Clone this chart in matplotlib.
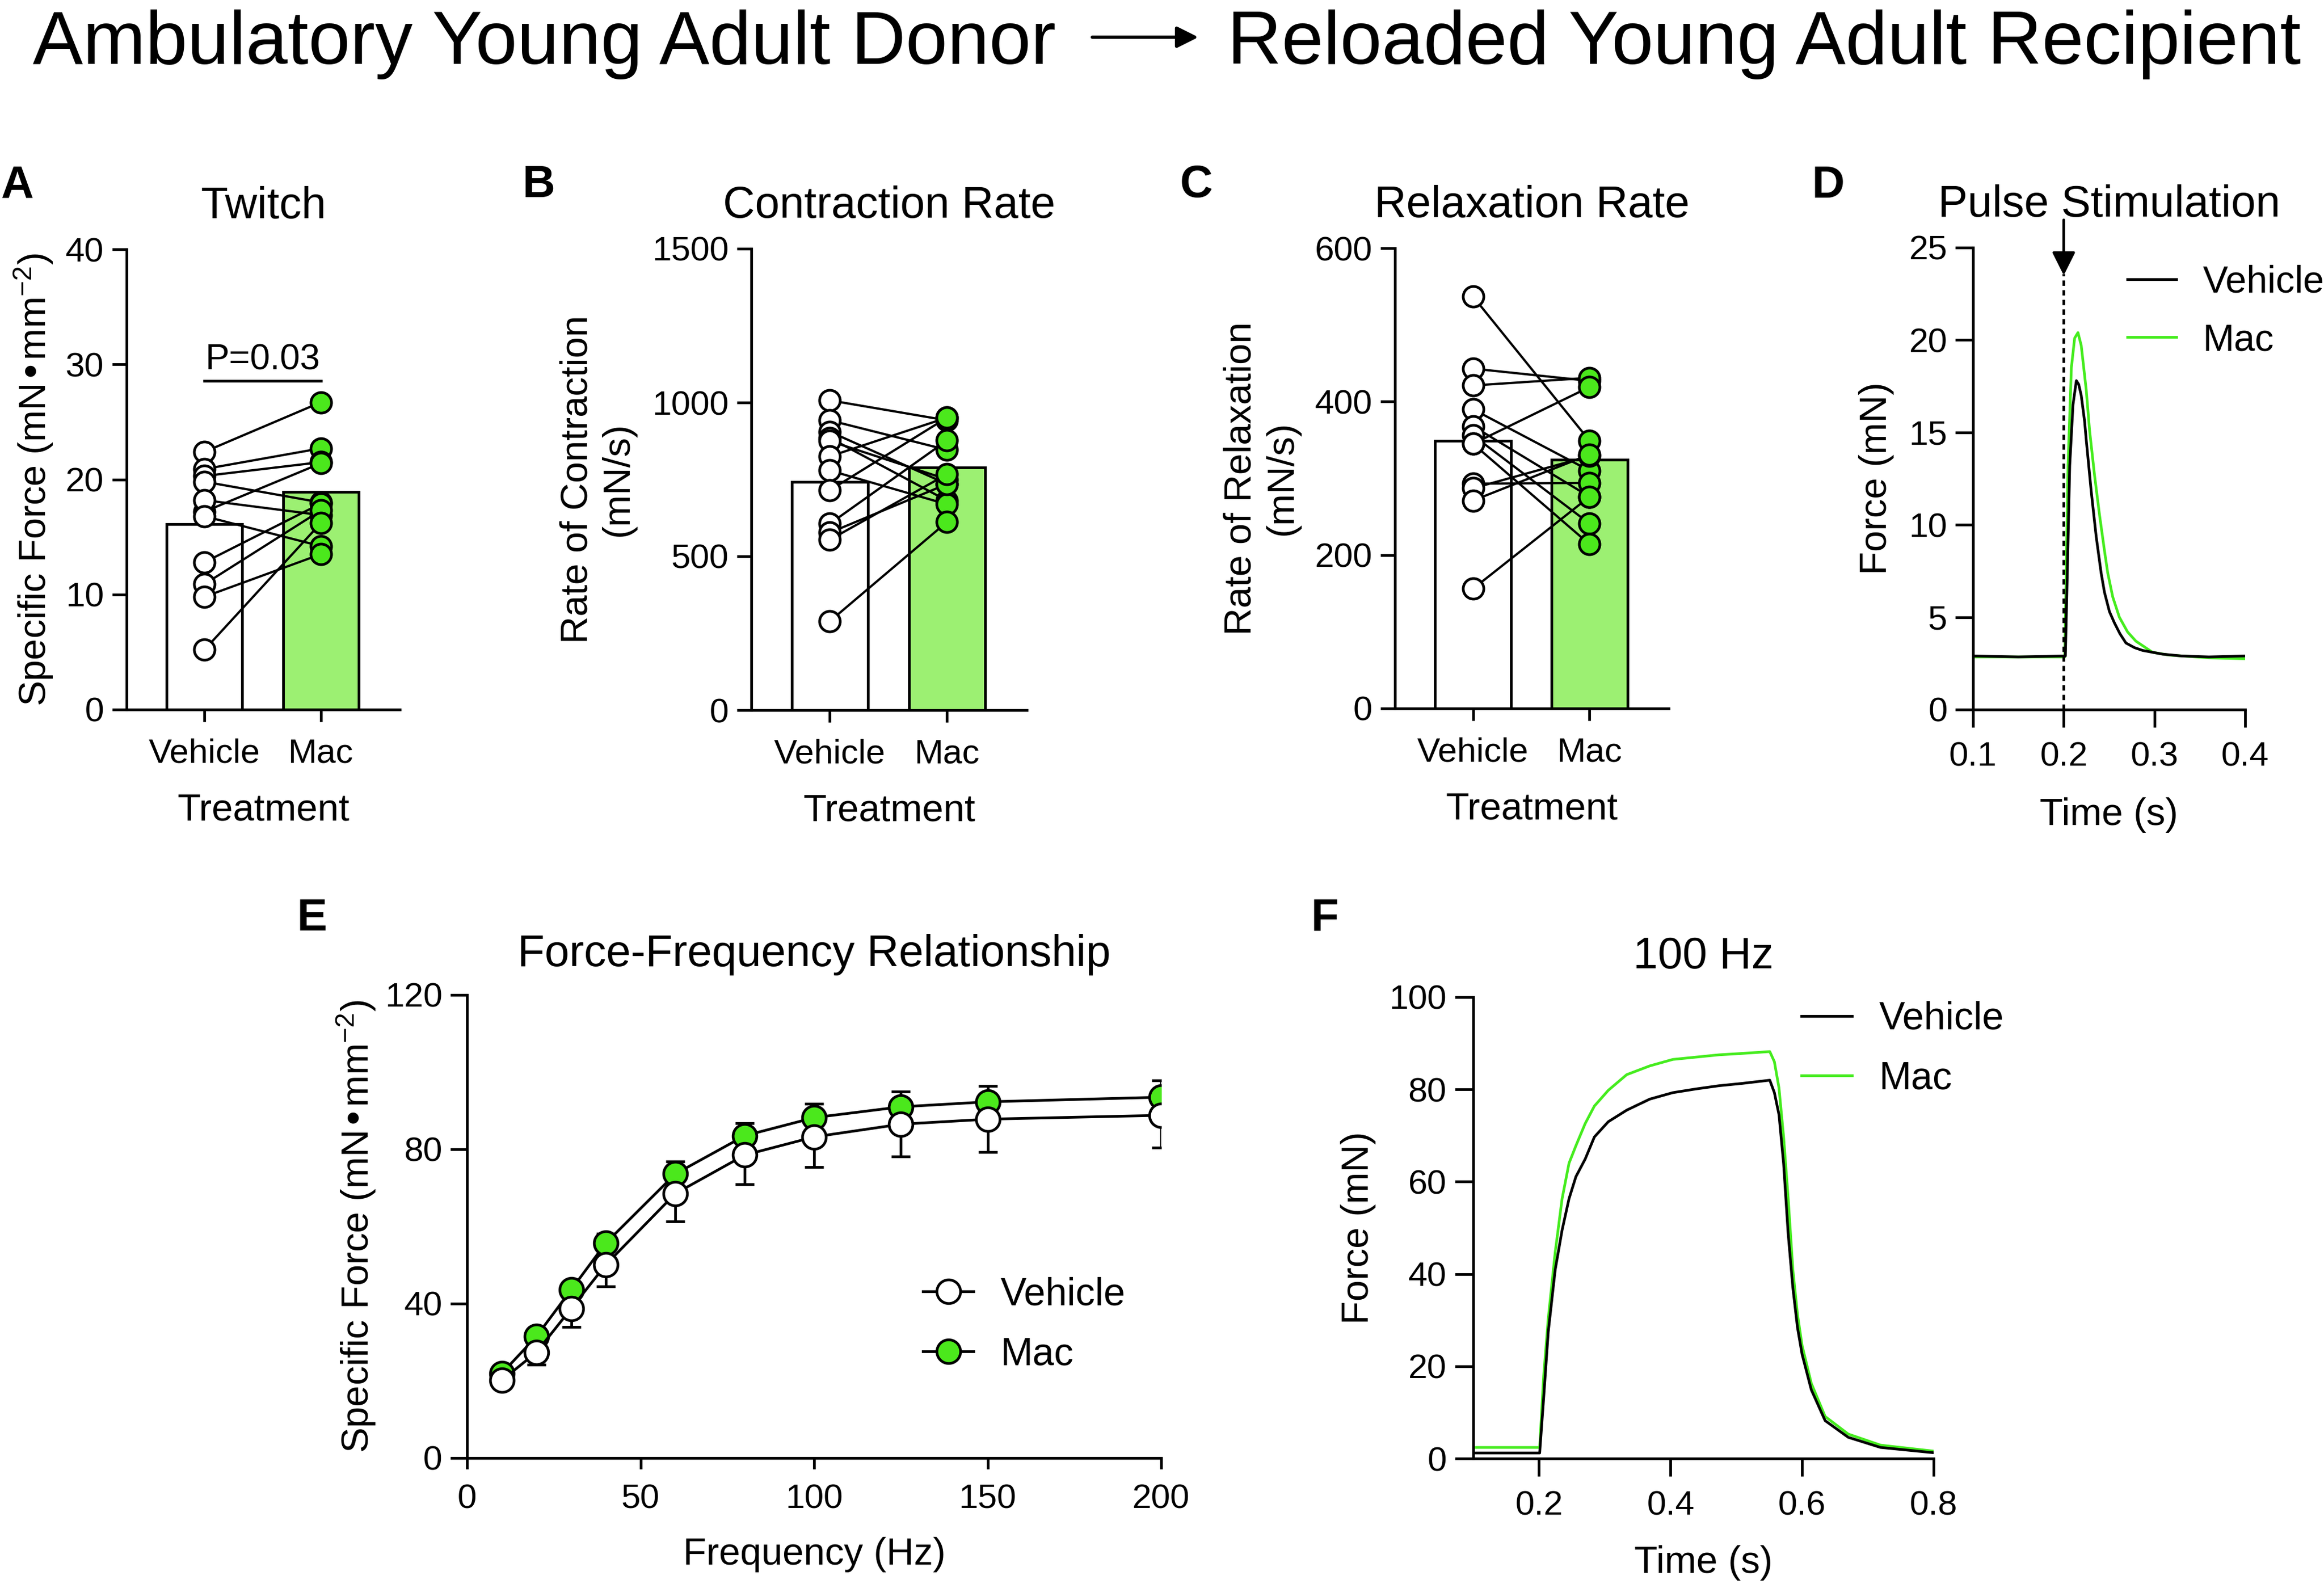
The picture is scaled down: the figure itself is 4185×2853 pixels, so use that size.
import matplotlib
matplotlib.use('Agg')
import matplotlib.pyplot as plt
from matplotlib.patches import FancyArrowPatch
import numpy as np

plt.rcParams['font.family'] = ['Liberation Sans', 'DejaVu Sans']
plt.rcParams['mathtext.default'] = 'regular'

# ---------------- data ----------------
treatments = ['Vehicle', 'Mac']

twitch_vehicle = [22.4, 20.9, 20.3, 19.8, 17.2, 18.2, 16.8, 12.8, 10.9, 9.8, 5.2]
twitch_mac = [26.7, 22.7, 21.5, 18.0, 21.4, 16.9, 14.2, 17.9, 17.3, 13.5, 16.2]
twitch_bars = [16.1, 18.9]

contr_vehicle = [1007, 942, 905, 885, 875, 825, 779, 715, 606, 577, 554, 289]
contr_mac = [942, 846, 735, 681, 750, 951, 669, 951, 877, 735, 767, 612]
contr_bars = [742, 788]

relax_vehicle = [537, 443, 421, 390, 368, 356, 345, 345, 293, 287, 271, 156]
relax_mac = [349, 427, 431, 310, 276, 241, 419, 214, 294, 329, 331, 276]
relax_bars = [349, 324]

stim_time = 0.2
pulse_t_vehicle = [0.100, 0.150, 0.2018, 0.2040, 0.2066, 0.2102, 0.2139, 0.2165, 0.2193, 0.2230,
                   0.2248, 0.2303, 0.2358, 0.2412, 0.2449, 0.2504, 0.2558, 0.2620, 0.2686, 0.2780,
                   0.2869, 0.3088, 0.3300, 0.3600, 0.4000]
pulse_f_vehicle = [2.9, 2.85, 2.9, 7.5, 13.2, 16.5, 17.8, 17.6, 17.0, 15.6,
                   14.6, 11.8, 9.35, 7.4, 6.35, 5.3, 4.7, 4.1, 3.6, 3.35,
                   3.2, 3.0, 2.9, 2.85, 2.9]
pulse_t_mac = [0.100, 0.150, 0.2011, 0.2047, 0.2084, 0.2120, 0.2157, 0.2193, 0.2248, 0.2285,
               0.2339, 0.2394, 0.2449, 0.2485, 0.2540, 0.2613, 0.2704, 0.2796, 0.2978, 0.3160,
               0.3600, 0.4000]
pulse_f_mac = [2.85, 2.85, 2.85, 13.2, 18.5, 20.1, 20.4, 19.7, 17.3, 15.1,
               12.7, 10.55, 8.6, 7.4, 6.1, 5.0, 4.2, 3.7, 3.1, 2.95,
               2.8, 2.75]

ffr_freq = [10, 20, 30, 40, 60, 80, 100, 125, 150, 200]
ffr_vehicle = [20.1, 27.4, 38.7, 50.1, 68.5, 78.5, 83.2, 86.5, 87.8, 88.8]
ffr_vehicle_sem = [1.0, 3.2, 4.7, 5.7, 7.2, 7.6, 7.8, 8.3, 8.5, 8.4]
ffr_mac = [21.9, 31.5, 43.6, 55.7, 73.6, 83.5, 88.2, 91.0, 92.3, 93.5]
ffr_mac_sem = [1.0, 1.5, 2.0, 2.5, 3.3, 3.2, 3.6, 3.9, 4.1, 4.4]

tet_t_vehicle = [0.100, 0.150, 0.2010, 0.2070, 0.2140, 0.2246, 0.2351, 0.2456, 0.2561, 0.2702,
                 0.2842, 0.3053, 0.3333, 0.3684, 0.4035, 0.4386, 0.4737, 0.5088, 0.5509, 0.5579,
                 0.5649, 0.5719, 0.5789, 0.5860, 0.5930, 0.6000, 0.6140, 0.6351, 0.6702, 0.7193,
                 0.8000]
tet_f_vehicle = [1.2, 1.2, 1.2, 13.0, 27.4, 40.9, 49.5, 56.3, 61.1, 64.9,
                 69.7, 73.0, 75.5, 77.9, 79.3, 80.1, 80.8, 81.3, 82.0, 79.3,
                 74.5, 63.9, 48.6, 37.0, 28.4, 22.6, 14.9, 8.2, 4.6, 2.4,
                 1.25]
tet_t_mac = [0.100, 0.150, 0.2010, 0.2070, 0.2140, 0.2246, 0.2351, 0.2456, 0.2561, 0.2702,
             0.2842, 0.3053, 0.3333, 0.3684, 0.4035, 0.4386, 0.4737, 0.5088, 0.5509, 0.5579,
             0.5649, 0.5719, 0.5789, 0.5860, 0.5930, 0.6000, 0.6140, 0.6351, 0.6702, 0.7193,
             0.8000]
tet_f_mac = [2.4, 2.4, 2.4, 17.8, 30.3, 44.7, 56.3, 64.0, 67.8, 72.6,
             76.4, 79.8, 83.2, 85.1, 86.5, 87.0, 87.5, 87.8, 88.2, 86.0,
             80.3, 69.7, 56.3, 40.9, 31.25, 24.5, 16.3, 9.1, 5.3, 2.9,
             1.6]

# ---------------- style ----------------
GREEN = '#4BE81C'
GREEN_LINE = '#45EC1E'
GREEN_FILL = '#9CF072'
LW = 1.3
TICK_FS = 16.8
LABEL_FS = 18.5
TITLE_FS = 21.5
LEG_FS = 18.8

W, H = 4185, 2853
DPI = 267
fig = plt.figure(figsize=(W / DPI, H / DPI), dpi=DPI)


def px_axes(l, t, r, b):
    return fig.add_axes([l / W, 1 - b / H, (r - l) / W, (b - t) / H])


def style(ax, xlen=7, ylen=7, xpad=8, ypad=4):
    for s in ['top', 'right']:
        ax.spines[s].set_visible(False)
    for s in ['left', 'bottom']:
        ax.spines[s].set_linewidth(LW)
    ax.tick_params(axis='both', width=LW, direction='out', labelsize=TICK_FS, colors='black')
    ax.tick_params(axis='x', length=xlen, pad=xpad)
    ax.tick_params(axis='y', length=ylen, pad=ypad)


axA = px_axes(228, 449, 720, 1278)
axB = px_axes(1353, 448, 1849, 1279)
axC = px_axes(2512, 447, 3005, 1276)
axD = px_axes(3553, 446, 4043, 1278)
axE = px_axes(841, 1792, 2091, 2626)
axF = px_axes(2653, 1796, 3482, 2627)


def bar_panel(ax, veh, mac, bars, top, step, ylabel, title, ylab_x):
    style(ax, xlen=6, ylen=7, xpad=8)
    ax.bar([0, 1], bars, width=0.65, color=['white', GREEN_FILL],
           edgecolor='black', linewidth=LW, zorder=1)
    for v, m in zip(veh, mac):
        ax.plot([0, 1], [v, m], color='black', lw=1.1, zorder=2)
    ax.plot(np.zeros(len(veh)), veh, 'o', mfc='white', mec='black', ms=10, mew=1.3, zorder=3)
    ax.plot(np.ones(len(mac)), mac, 'o', mfc=GREEN, mec='black', ms=10, mew=1.3, zorder=3)
    ax.set_xlim(-0.67, 1.68)
    ax.set_ylim(0, top)
    ax.set_yticks(np.arange(0, top + 1e-9, step))
    ax.set_xticks([0, 1])
    ax.set_xticklabels(treatments)
    ax.set_xlabel('Treatment', fontsize=LABEL_FS)
    ax.xaxis.set_label_coords(0.5, -0.18)
    ax.set_ylabel(ylabel, fontsize=LABEL_FS)
    ax.yaxis.set_label_coords(ylab_x, 0.5)
    ax.set_title(title, fontsize=TITLE_FS, pad=15)
    for sp in ax.spines.values():
        sp.set_zorder(4)


bar_panel(axA, twitch_vehicle, twitch_mac, twitch_bars, 40, 10,
          'Specific Force (mN\u2022mm$^{-2}$)', 'Twitch', -0.262)
axA.plot([0, 1], [28.56, 28.56], color='black', lw=1.3)
axA.text(0.5, 28.95, 'P=0.03', ha='center', va='bottom', fontsize=17.5)

bar_panel(axB, contr_vehicle, contr_mac, contr_bars, 1500, 500,
          'Rate of Contraction\n(mN/s)', 'Contraction Rate', -0.419)
bar_panel(axC, relax_vehicle, relax_mac, relax_bars, 600, 200,
          'Rate of Relaxation\n(mN/s)', 'Relaxation Rate', -0.347)

# ---- D ----
style(axD, xlen=8.5, ylen=8.5, xpad=7)
lv, = axD.plot(pulse_t_mac, pulse_f_mac, color=GREEN_LINE, lw=1.3, label='Mac')
lk, = axD.plot(pulse_t_vehicle, pulse_f_vehicle, color='black', lw=1.3, label='Vehicle')
axD.plot([stim_time, stim_time], [0, 23.6], color='black', lw=1.3, ls=(0, (2, 1.6)))
axD.annotate('', xy=(stim_time, 23.5), xytext=(stim_time, 26.5),
             arrowprops=dict(arrowstyle='-|>', lw=1.3, color='black', mutation_scale=24,
                             shrinkA=0, shrinkB=0), annotation_clip=False)
axD.set_xlim(0.1, 0.4)
axD.set_ylim(0, 25)
axD.set_xticks([0.1, 0.2, 0.3, 0.4])
axD.set_xticklabels(['0.1', '0.2', '0.3', '0.4'])
axD.set_yticks([0, 5, 10, 15, 20, 25])
axD.set_xlabel('Time (s)', fontsize=LABEL_FS)
axD.xaxis.set_label_coords(0.5, -0.19)
axD.set_ylabel('Force (mN)', fontsize=LABEL_FS)
axD.yaxis.set_label_coords(-0.29, 0.5)
axD.set_title('Pulse Stimulation', fontsize=TITLE_FS, pad=15)
axD.legend(handles=[lk, lv], loc='center left', bbox_to_anchor=(0.567, 0.862),
           frameon=False, fontsize=18.3, handlelength=1.3, handletextpad=0.7,
           labelspacing=0.6, borderpad=0, borderaxespad=0)

# ---- E ----
style(axE, xlen=5.5, ylen=8, xpad=7)
zeros = np.zeros(len(ffr_freq))
axE.errorbar(ffr_freq, ffr_mac, yerr=[zeros, ffr_mac_sem], fmt='none', ecolor='black',
             elinewidth=1.3, capsize=4.5, capthick=1.3, zorder=2)
hm, = axE.plot(ffr_freq, ffr_mac, '-o', color='black', lw=1.3, mfc=GREEN, mec='black',
               ms=11.5, mew=1.3, zorder=3, label='Mac')
axE.errorbar(ffr_freq, ffr_vehicle, yerr=[ffr_vehicle_sem, zeros], fmt='none', ecolor='black',
             elinewidth=1.3, capsize=4.5, capthick=1.3, zorder=4)
hv, = axE.plot(ffr_freq, ffr_vehicle, '-o', color='black', lw=1.3, mfc='white', mec='black',
               ms=11.5, mew=1.3, zorder=5, label='Vehicle')
axE.set_xlim(0, 200)
axE.set_ylim(0, 120)
axE.set_xticks([0, 50, 100, 150, 200])
axE.set_yticks([0, 40, 80, 120])
axE.set_xlabel('Frequency (Hz)', fontsize=LABEL_FS)
axE.xaxis.set_label_coords(0.5, -0.17)
axE.set_ylabel('Specific Force (mN\u2022mm$^{-2}$)', fontsize=LABEL_FS)
axE.yaxis.set_label_coords(-0.129, 0.5)
axE.set_title('Force-Frequency Relationship', fontsize=TITLE_FS, pad=14)
axE.legend(handles=[hv, hm], loc='center left', bbox_to_anchor=(0.657, 0.287),
           frameon=False, fontsize=LEG_FS, handlelength=1.3, handletextpad=0.7,
           labelspacing=0.6, borderpad=0, borderaxespad=0, numpoints=1)
for sp in axE.spines.values():
    sp.set_zorder(6)

# ---- F ----
style(axF, xlen=8.5, ylen=9, xpad=7)
fv, = axF.plot(tet_t_mac, tet_f_mac, color=GREEN_LINE, lw=1.3, label='Mac')
fk, = axF.plot(tet_t_vehicle, tet_f_vehicle, color='black', lw=1.3, label='Vehicle')
axF.set_xlim(0.1, 0.8)
axF.set_ylim(0, 100)
axF.set_xticks([0.2, 0.4, 0.6, 0.8])
axF.set_xticklabels(['0.2', '0.4', '0.6', '0.8'])
axF.set_yticks([0, 20, 40, 60, 80, 100])
axF.set_xlabel('Time (s)', fontsize=LABEL_FS)
axF.xaxis.set_label_coords(0.5, -0.188)
axF.set_ylabel('Force (mN)', fontsize=LABEL_FS)
axF.yaxis.set_label_coords(-0.211, 0.5)
axF.set_title('100 Hz', fontsize=TITLE_FS, pad=14)
axF.legend(handles=[fk, fv], loc='center left', bbox_to_anchor=(0.713, 0.887),
           frameon=False, fontsize=LEG_FS, handlelength=1.3, handletextpad=0.7,
           labelspacing=0.6, borderpad=0, borderaxespad=0)

# ---- header and panel letters ----
fig.text(59 / W, 1 - 115 / H, 'Ambulatory Young Adult Donor', fontsize=36.5,
         ha='left', va='baseline')
fig.text(2210 / W, 1 - 115 / H, 'Reloaded Young Adult Recipient', fontsize=36.5,
         ha='left', va='baseline')
fig.add_artist(FancyArrowPatch((1967 / W, 1 - 67 / H), (2158 / W, 1 - 67 / H),
                               transform=fig.transFigure, arrowstyle='-|>',
                               mutation_scale=22, lw=1.6, color='black',
                               shrinkA=0, shrinkB=0))

for letter, x, y in [('A', 2, 355), ('B', 940, 355), ('C', 2125, 355), ('D', 3262, 356),
                     ('E', 535, 1676), ('F', 2360, 1676)]:
    fig.text(x / W, 1 - y / H, letter, fontsize=22, fontweight='bold',
             ha='left', va='baseline')

fig.savefig('out.png', dpi=DPI, facecolor='white')
